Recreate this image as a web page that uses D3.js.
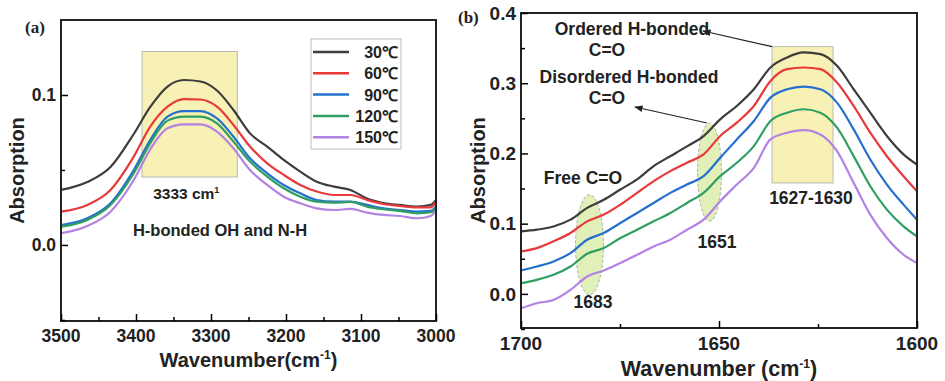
<!DOCTYPE html>
<html>
<head>
<meta charset="utf-8">
<script src="https://cdnjs.cloudflare.com/ajax/libs/d3/7.8.5/d3.min.js"></script>
<style>
  body { margin: 0; background: #fff; }
  text { font-family: "Liberation Sans", Arial, sans-serif; font-weight: bold; fill: #222; }
</style>
</head>
<body>
<div id="chart"></div>
<script>
// temperatures and line colours
var temps = ["30℃", "60℃", "90℃", "120℃", "150℃"];
var colors = ["#3d3d3d", "#e8393b", "#2470cf", "#2f9e62", "#b283e3"];

// panel (a): 3500-3000 cm-1
var waveA = [3500, 3465, 3434, 3403, 3381, 3358, 3336, 3314, 3292, 3270, 3248, 3225, 3203,
             3181, 3159, 3136, 3114, 3092, 3070, 3048, 3025, 3007, 3000];
var a30  = [0.0367, 0.042, 0.052, 0.074, 0.092, 0.1056, 0.110, 0.109, 0.103, 0.090, 0.0744, 0.0656, 0.0567,
            0.0489, 0.0422, 0.0389, 0.0367, 0.031, 0.028, 0.0267, 0.0256, 0.0267, 0.030];
var a60  = [0.0222, 0.0267, 0.0367, 0.0589, 0.0789, 0.0922, 0.0973, 0.097, 0.0922, 0.080, 0.0656, 0.0544, 0.0467,
            0.040, 0.0356, 0.0333, 0.0333, 0.030, 0.0273, 0.026, 0.0251, 0.0251, 0.0289];
var a90  = [0.0133, 0.0178, 0.0278, 0.050, 0.070, 0.0856, 0.0893, 0.0893, 0.0844, 0.0722, 0.0578, 0.0478, 0.040,
            0.0344, 0.030, 0.0289, 0.0289, 0.0267, 0.0244, 0.0233, 0.0222, 0.0227, 0.0256];
var a120 = [0.0122, 0.0167, 0.0267, 0.0478, 0.0678, 0.0829, 0.0856, 0.0856, 0.0811, 0.0689, 0.0556, 0.0456, 0.0378,
            0.0322, 0.0289, 0.0282, 0.0287, 0.0256, 0.0238, 0.0227, 0.0211, 0.0218, 0.0244];
var a150 = [0.0078, 0.0127, 0.0222, 0.0433, 0.0638, 0.0778, 0.0804, 0.0804, 0.0756, 0.0644, 0.050, 0.040, 0.0322,
            0.0278, 0.0244, 0.0233, 0.024, 0.0216, 0.020, 0.0193, 0.0178, 0.0193, 0.0233];

// panel (b): 1700-1600 cm-1
var waveB = [1700, 1696, 1691.8, 1687.5, 1683.3, 1679.1, 1674.9, 1670.7, 1666.5, 1662.3, 1658.1, 1653.9, 1649.7,
             1645.5, 1641.2, 1637, 1632.8, 1628.6, 1624.4, 1620.2, 1616, 1611.8, 1607.6, 1603.4, 1600];
var b30  = [0.089, 0.0914, 0.096, 0.1057, 0.1224, 0.134, 0.1486, 0.163, 0.182, 0.196, 0.21, 0.2248, 0.2486,
            0.2676, 0.2914, 0.3224, 0.3367, 0.3438, 0.3414, 0.3248, 0.2914, 0.258, 0.2248, 0.1986, 0.184];
var b60  = [0.0605, 0.0652, 0.0748, 0.0867, 0.1033, 0.1129, 0.1271, 0.1438, 0.1605, 0.1748, 0.1867, 0.1986, 0.2248,
            0.2438, 0.2676, 0.3033, 0.32, 0.3224, 0.32, 0.301, 0.2676, 0.2295, 0.196, 0.1676, 0.1462];
var b90  = [0.0333, 0.039, 0.0462, 0.058, 0.0771, 0.0867, 0.101, 0.1152, 0.1295, 0.1438, 0.1557, 0.1676, 0.1938,
            0.22, 0.2462, 0.2795, 0.2914, 0.2952, 0.2914, 0.2724, 0.2343, 0.1914, 0.1557, 0.1271, 0.1057];
var b120 = [0.0152, 0.02, 0.0271, 0.039, 0.0571, 0.0652, 0.0795, 0.0914, 0.1033, 0.1152, 0.1295, 0.1438, 0.1676,
            0.1867, 0.2105, 0.2462, 0.258, 0.2629, 0.258, 0.2367, 0.1962, 0.1533, 0.12, 0.0962, 0.0819];
var b150 = [-0.0205, -0.0133, -0.0086, 0.0057, 0.0248, 0.0333, 0.0438, 0.0557, 0.0676, 0.0771, 0.0914, 0.1057, 0.1319,
            0.1557, 0.1795, 0.22, 0.2295, 0.2333, 0.2271, 0.2033, 0.1581, 0.1129, 0.0795, 0.0557, 0.0438];

// tick values
var ticksAx = [3500, 3400, 3300, 3200, 3100, 3000];
var minorAx = [3450, 3350, 3250, 3150, 3050];
var ticksAy = [0.0, 0.1];
var minorAy = [-0.05, 0.05];
var ticksBx = [1700, 1650, 1600];
var minorBx = [1675, 1625];
var ticksBy = [0.0, 0.1, 0.2, 0.3, 0.4];
var minorBy = [-0.05, 0.05, 0.15, 0.25, 0.35];

var svg = d3.select("#chart").append("svg")
    .attr("width", 945)
    .attr("height", 381);
svg.append("rect").attr("width", 945).attr("height", 381).attr("fill", "#fff");

function panel(cfg) {
    var x = d3.scaleLinear().domain(cfg.xdom).range([cfg.left, cfg.right]);
    var y = d3.scaleLinear().domain(cfg.ydom).range([cfg.bottom, cfg.top]);
    var g = svg.append("g");

    // highlight shapes go under the lines
    cfg.under(g, x, y);

    var line = d3.line()
        .x(function(d) { return x(d[0]); })
        .y(function(d) { return y(d[1]); })
        .curve(d3.curveMonotoneX);

    cfg.series.forEach(function(s, i) {
        g.append("path")
            .datum(cfg.wave.map(function(w, j) { return [w, s[j]]; }))
            .attr("d", line)
            .attr("fill", "none")
            .attr("stroke", colors[i])
            .attr("stroke-width", 2.2);
    });

    // frame
    g.append("rect")
        .attr("x", cfg.left).attr("y", cfg.top)
        .attr("width", cfg.right - cfg.left).attr("height", cfg.bottom - cfg.top)
        .attr("fill", "none").attr("stroke", "#222").attr("stroke-width", 2);

    // inward ticks
    var xa = d3.axisTop(x).tickValues(cfg.xticks).tickSize(7).tickFormat("");
    g.append("g").attr("transform", "translate(0," + cfg.bottom + ")").call(xa)
        .call(function(s) { s.select(".domain").remove(); s.selectAll("line").attr("stroke-width", 1.5); });
    var xm = d3.axisTop(x).tickValues(cfg.xminor).tickSize(4).tickFormat("");
    g.append("g").attr("transform", "translate(0," + cfg.bottom + ")").call(xm)
        .call(function(s) { s.select(".domain").remove(); s.selectAll("line").attr("stroke-width", 1.5); });
    var ya = d3.axisRight(y).tickValues(cfg.yticks).tickSize(7).tickFormat("");
    g.append("g").attr("transform", "translate(" + cfg.left + ",0)").call(ya)
        .call(function(s) { s.select(".domain").remove(); s.selectAll("line").attr("stroke-width", 1.5); });
    var ym = d3.axisRight(y).tickValues(cfg.yminor).tickSize(4).tickFormat("");
    g.append("g").attr("transform", "translate(" + cfg.left + ",0)").call(ym)
        .call(function(s) { s.select(".domain").remove(); s.selectAll("line").attr("stroke-width", 1.5); });

    // tick labels
    cfg.xticks.forEach(function(t) {
        g.append("text").attr("x", x(t)).attr("y", cfg.bottom + cfg.tickFont + 3)
            .attr("text-anchor", "middle").attr("font-size", cfg.tickFont).text(t);
    });
    cfg.yticks.forEach(function(t) {
        g.append("text").attr("x", cfg.left - 5).attr("y", y(t) + cfg.tickFont * 0.35)
            .attr("text-anchor", "end").attr("font-size", cfg.tickFont).text(d3.format(".1f")(t));
    });

    // axis titles
    var xt = g.append("text").attr("x", (cfg.left + cfg.right) / 2).attr("y", cfg.bottom + cfg.titleDy)
        .attr("text-anchor", "middle").attr("font-size", cfg.titleFont);
    xt.append("tspan").text(cfg.xtitle);
    xt.append("tspan").attr("dy", -8).attr("font-size", 12).text(cfg.xsup);
    xt.append("tspan").attr("dy", 8).text(")");

    g.append("text")
        .attr("transform", "translate(" + cfg.ytx + "," + (cfg.top + cfg.bottom) / 2 + ") rotate(-90)")
        .attr("text-anchor", "middle").attr("font-size", 20).text("Absorption");

    g.append("text").attr("x", cfg.labx).attr("y", cfg.laby)
        .style("font-family", "'Liberation Serif', 'Times New Roman', serif")
        .attr("font-size", 17).text(cfg.label);

    cfg.over(g, x, y);
}

// panel (a)
panel({
    left: 61, right: 436, top: 20, bottom: 321,
    xdom: [3500, 3000], ydom: [-0.0507, 0.15],
    wave: waveA, series: [a30, a60, a90, a120, a150],
    xticks: ticksAx, xminor: minorAx, yticks: ticksAy, yminor: minorAy,
    tickFont: 17.5, titleFont: 20, titleDy: 46,
    xtitle: "Wavenumber(cm", xsup: "-1", ytx: 24, label: "(a)", labx: 25, laby: 33,
    under: function(g, x, y) {
        g.append("rect")
            .attr("x", x(3392)).attr("y", y(0.129))
            .attr("width", x(3265) - x(3392)).attr("height", y(0.0453) - y(0.129))
            .attr("fill", "#f8f1b6").attr("stroke", "#aaa").attr("stroke-width", 0.8);
    },
    over: function(g, x, y) {
        var t = g.append("text").attr("x", x(3333)).attr("y", 199)
            .attr("text-anchor", "middle").attr("font-size", 15.5);
        t.append("tspan").text("3333 cm");
        t.append("tspan").attr("dy", -6).attr("font-size", 9).text("1");
        g.append("text").attr("x", 220).attr("y", 236)
            .attr("text-anchor", "middle").attr("font-size", 16.5).text("H-bonded OH and N-H");

        // legend
        g.append("rect").attr("x", 311).attr("y", 39).attr("width", 90).attr("height", 110)
            .attr("fill", "#fff").attr("stroke", "#bbb").attr("stroke-width", 1);
        temps.forEach(function(tp, i) {
            var ly = 52 + i * 21.3;
            g.append("line").attr("x1", 313).attr("x2", 349).attr("y1", ly).attr("y2", ly)
                .attr("stroke", colors[i]).attr("stroke-width", 2.5);
            g.append("text").attr("x", 398).attr("y", ly + 6)
                .attr("text-anchor", "end").attr("font-size", 16).text(tp);
        });
    }
});

// panel (b)
panel({
    left: 521, right: 917, top: 13, bottom: 328,
    xdom: [1700, 1600], ydom: [-0.0486, 0.4],
    wave: waveB, series: [b30, b60, b90, b120, b150],
    xticks: ticksBx, xminor: minorBx, yticks: ticksBy, yminor: minorBy,
    tickFont: 19, titleFont: 21.5, titleDy: 48,
    xtitle: "Wavenumber (cm", xsup: "-1", ytx: 485, label: "(b)", labx: 458, laby: 23,
    under: function(g, x, y) {
        g.append("rect")
            .attr("x", x(1636.6)).attr("y", y(0.352))
            .attr("width", x(1621.2) - x(1636.6)).attr("height", y(0.158) - y(0.352))
            .attr("fill", "#f8f1b6").attr("stroke", "#aaa").attr("stroke-width", 0.8);
        [[1682.7, 0.07, 14, 50], [1652.4, 0.1733, 12, 49]].forEach(function(e) {
            g.append("ellipse").attr("cx", x(e[0])).attr("cy", y(e[1]))
                .attr("rx", e[2]).attr("ry", e[3])
                .attr("fill", "#dcecab").attr("fill-opacity", 0.85)
                .attr("stroke", "#999").attr("stroke-dasharray", "3,2").attr("stroke-width", 0.8);
        });
    },
    over: function(g, x, y) {
        var defs = svg.append("defs");
        defs.append("marker").attr("id", "ah").attr("viewBox", "0 0 10 10")
            .attr("refX", 9).attr("refY", 5).attr("markerWidth", 7).attr("markerHeight", 7)
            .attr("orient", "auto")
            .append("path").attr("d", "M0,1 L10,5 L0,9 Z").attr("fill", "#222");
        g.append("line").attr("x1", x(1636.6)).attr("y1", y(0.352)).attr("x2", 703).attr("y2", 31)
            .attr("stroke", "#222").attr("stroke-width", 1.2).attr("marker-end", "url(#ah)");
        g.append("line").attr("x1", 707).attr("y1", 123).attr("x2", 635).attr("y2", 107)
            .attr("stroke", "#222").attr("stroke-width", 1.2).attr("marker-end", "url(#ah)");

        var notes = [
            ["Ordered H-bonded", 632, 35],
            ["C=O", 607, 56],
            ["Disordered H-bonded", 629, 83],
            ["C=O", 607, 104],
            ["Free C=O", 583, 184],
            ["1627-1630", 811, 204],
            ["1651", 717, 248],
            ["1683", 593, 308]
        ];
        notes.forEach(function(n) {
            g.append("text").attr("x", n[1]).attr("y", n[2])
                .attr("text-anchor", "middle").attr("font-size", 17.5).text(n[0]);
        });
    }
});
</script>
</body>
</html>
